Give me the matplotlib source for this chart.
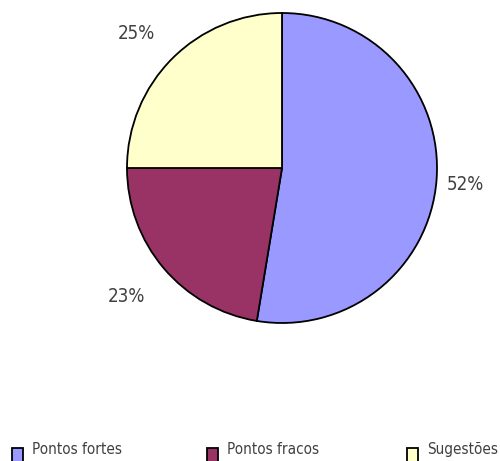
import numpy as np
import matplotlib.pyplot as plt
from matplotlib.patches import Rectangle

categories = ["Pontos fortes", "Pontos fracos", "Sugestões"]
values = [52.6, 22.4, 25.0]
pct_labels = ["52%", "23%", "25%"]
colors = ["#9999FF", "#993366", "#FFFFCC"]

plt.rcParams['font.family'] = ['DejaVu Sans']
plt.rcParams['font.stretch'] = 'condensed'

W, H = 500, 461
fig = plt.figure(figsize=(W / 100, H / 100), dpi=100)
ax = fig.add_axes([0, 0, 1, 1])

cx, cy, r = 282, H - 168, 155
wedges, texts = ax.pie(
    values, colors=colors, startangle=90, counterclock=False,
    center=(cx, cy), radius=r, labels=pct_labels,
    wedgeprops=dict(edgecolor='black', linewidth=1.3),
    textprops=dict(color='#404040', fontsize=13.5),
)

# label placement (distance in radii, angle nudge in degrees), like the original
label_dist = [1.19, 1.30, 1.28]
label_nudge = [-0.6, -0.7, 2.4]
for w, t, d, n in zip(wedges, texts, label_dist, label_nudge):
    ang = np.deg2rad((w.theta1 + w.theta2) / 2 + n)
    t.set_position((cx + d * r * np.cos(ang), cy + d * r * np.sin(ang)))
    t.set_ha('center')
    t.set_va('center')

ax.set_xlim(0, W)
ax.set_ylim(0, H)
ax.set_aspect('equal')
ax.axis('off')

# legend row at the bottom (squares run off the lower edge, as in the original)
legend_x = [12, 207, 407]
for w, lab, x in zip(wedges, categories, legend_x):
    fig.add_artist(Rectangle((x / W, 1 - 463 / H), 11 / W, 15 / H,
                             transform=fig.transFigure, facecolor=w.get_facecolor(),
                             edgecolor='black', linewidth=1.3))
    fig.text((x + 20) / W, 1 - 454 / H, lab, fontsize=11, color='#404040',
             ha='left', va='baseline')

fig.savefig("out.png", dpi=100)
